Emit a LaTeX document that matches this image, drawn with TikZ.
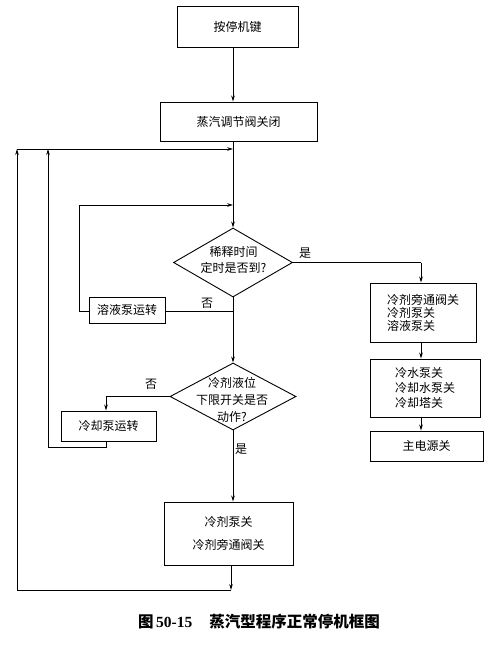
\documentclass[tikz,border=0pt]{standalone}
\usepackage{fontspec}
\setmainfont{Noto Sans CJK SC}
\newfontfamily\latfont{Liberation Serif}
\usetikzlibrary{arrows.meta,shapes.geometric}
\begin{document}
\begin{tikzpicture}[x=1pt,y=-1pt,
  box/.style={draw,line width=0.9pt,inner sep=0pt,font=\fontsize{12}{14}\selectfont},
  dia/.style={draw,diamond,line width=0.9pt,inner sep=0pt},
  conn/.style={line width=0.9pt},
  arr/.style={conn,-{Stealth[length=6pt,width=3.6pt]}},
  lbl/.style={font=\fontsize{12}{14}\selectfont,inner sep=0pt}]
\useasboundingbox (0,0) rectangle (502,648);
\coordinate (m) at (233,0);
\coordinate (r) at (421,0);
% boxes
\node[box,minimum width=121,minimum height=41] (b1) at (237.5,26.5) {按停机键};
\node[box,minimum width=157,minimum height=39] (b2) at (238.5,121.5) {蒸汽调节阀关闭};
\node[dia,minimum width=119,minimum height=69] (d1) at (233,262.5) {};
\node[lbl,align=center,font=\fontsize{12}{16}\selectfont] (t1) at (233.5,260) {稀释时间\\定时是否到?};
\node[box,minimum width=76,minimum height=26] (sy) at (127,310) {溶液泵运转};
\node[box,minimum width=106,minimum height=59,align=left,font=\fontsize{12}{13}\selectfont] (b3) at (423,312.5) {冷剂旁通阀关\\冷剂泵关\\溶液泵关};
\node[box,minimum width=110,minimum height=58,align=left,font=\fontsize{12}{15}\selectfont] (b4) at (425,388) {冷水泵关\\冷却水泵关\\冷却塔关};
\node[box,minimum width=113,minimum height=30] (b5) at (426.5,446) {主电源关};
\node[dia,minimum width=126,minimum height=67] (d2) at (233,396.5) {};
\node[lbl,align=center,font=\fontsize{12}{17}\selectfont] (t2) at (232,400) {冷剂液位\\下限开关是否\\动作?};
\node[box,minimum width=95,minimum height=30] (lq) at (108.5,426) {冷却泵运转};
\node[box,minimum width=129,minimum height=63,align=center,font=\fontsize{12}{23}\selectfont] (b6) at (228.5,533.5) {冷剂泵关\\冷剂旁通阀关};
% helper coordinates
\coordinate (j1) at (233,149);
\coordinate (j2) at (233,205);
\coordinate (j3) at (233,311);
\coordinate (l1) at (79,311);
\coordinate (l1t) at (79,205);
\coordinate (l2a) at (106,447);
\coordinate (l2b) at (48,447);
\coordinate (l2t) at (48,149);
\coordinate (l3a) at (231,590);
\coordinate (l3b) at (17,590);
\coordinate (l3t) at (17,149);
\coordinate (rc) at (421,262.5);
\coordinate (lc) at (106,396.5);
% connectors
\draw[arr] (b1.south -| m) -- (b2.north -| m);
\draw[conn] (b2.south -| m) -- (j2);
\draw[arr] (j2) -- (d1.north);
\draw[conn] (d1.south) -- (j3);
\draw[arr] (j3) -- (d2.north);
\draw[conn] (sy.east |- j3) -- (j3);
\draw[conn] (sy.west |- l1) -- (l1) -- (l1t);
\draw[arr] (l1t) -- (j2);
\draw[conn] (d1.east) -- (rc);
\draw[arr] (rc) -- (b3.north -| r);
\draw[arr] (b3.south -| r) -- (b4.north -| r);
\draw[arr] (b4.south -| r) -- (b5.north -| r);
\draw[conn] (d2.west) -- (lc);
\draw[arr] (lc) -- (lq.north -| lc);
\draw[conn] (lq.south -| lc) -- (l2a) -- (l2b);
\draw[arr] (l2b) -- (l2t);
\draw[arr] (d2.south) -- (b6.north -| d2.south);
\draw[arr] (b6.south -| l3a) -- (l3a);
\draw[conn] (l3a) -- (l3b);
\draw[arr] (l3b) -- (l3t);
\draw[arr] (l3t) -- (j1);
% labels
\node[lbl] (yes1) at (305,253) {是};
\node[lbl] (no1) at (207,303) {否};
\node[lbl] (no2) at (151,384) {否};
\node[lbl] (yes2) at (241,449) {是};
% caption
\node[inner sep=0pt,font=\bfseries\fontsize{15.5}{18}\selectfont] (cap) at (259,622) {图\,{\latfont\bfseries 50-15}\hspace{1.1em}蒸汽型程序正常停机框图};
\end{tikzpicture}
\end{document}
